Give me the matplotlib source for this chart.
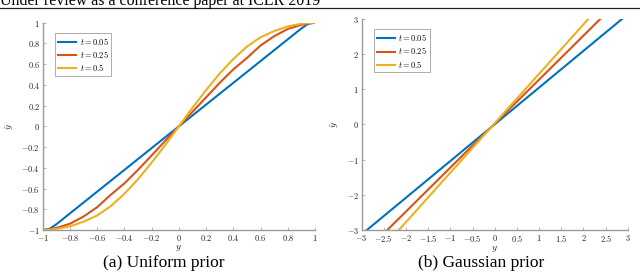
import matplotlib
matplotlib.use("Agg")
import matplotlib.pyplot as plt
from matplotlib.ticker import FuncFormatter, FixedLocator

plt.rcParams['mathtext.fontset'] = 'cm'

# (a) uniform prior: y -> y_hat
uni_y = [-1.0, -0.95, -0.9, -0.8, -0.7, -0.6, -0.5, -0.4, -0.3, -0.2, -0.1, 0.0,
         0.1, 0.2, 0.3, 0.4, 0.5, 0.6, 0.7, 0.8, 0.9, 0.95, 1.0]
uni_t005 = [-1.0, -0.99, -0.945, -0.84, -0.735, -0.63, -0.525, -0.42, -0.315, -0.21, -0.105, 0.0,
            0.105, 0.21, 0.315, 0.42, 0.525, 0.63, 0.735, 0.84, 0.945, 0.99, 1.0]
uni_t025 = [-1.0, -0.995, -0.98, -0.94, -0.87, -0.78, -0.66, -0.55, -0.42, -0.28, -0.14, 0.0,
            0.14, 0.28, 0.42, 0.55, 0.66, 0.78, 0.87, 0.94, 0.98, 0.995, 1.0]
uni_t05 = [-1.0, -0.998, -0.99, -0.965, -0.92, -0.86, -0.77, -0.65, -0.51, -0.35, -0.18, 0.0,
           0.18, 0.35, 0.51, 0.65, 0.77, 0.86, 0.92, 0.965, 0.99, 0.998, 1.0]

# (b) gaussian prior: straight lines, end points
gau_t005_y = [-2.88, 2.87]
gau_t025_y = [-2.42, 2.38]
gau_t05_y = [-2.16, 2.11]
gau_yhat = [-3.0, 3.0]

labels = ['$t = 0.05$', '$t = 0.25$', '$t = 0.5$']
colors = ['#0072BD', '#D95319', '#EDB120']

uni_ticks_x = [-1, -0.8, -0.6, -0.4, -0.2, 0, 0.2, 0.4, 0.6, 0.8, 1]
uni_ticks_y = [-1, -0.8, -0.6, -0.4, -0.2, 0, 0.2, 0.4, 0.6, 0.8, 1]
gau_ticks_x = [-3, -2.5, -2, -1.5, -1, -0.5, 0, 0.5, 1, 1.5, 2, 2.5, 3]
gau_ticks_y = [-3, -2, -1, 0, 1, 2, 3]

fig = plt.figure(figsize=(6.4, 2.72), dpi=100)
ax1 = fig.add_axes([0.0667, 0.1544, 0.4255, 0.762])
ax2 = fig.add_axes([0.565, 0.1544, 0.416, 0.776])

fmt = FuncFormatter(lambda v, p: '$%g$' % v)


def style(ax, xt, yt, lim_x, lim_y):
    ax.set_xlim(lim_x)
    ax.set_ylim(lim_y)
    for s in ['top', 'right']:
        ax.spines[s].set_visible(False)
    for s in ['left', 'bottom']:
        ax.spines[s].set_color('#9a9a9a')
        ax.spines[s].set_linewidth(1.0)
    ax.xaxis.set_major_locator(FixedLocator(xt))
    ax.yaxis.set_major_locator(FixedLocator(yt))
    ax.xaxis.set_major_formatter(fmt)
    ax.yaxis.set_major_formatter(fmt)
    ax.tick_params(direction='in', length=2.5, width=0.5, color='#9a9a9a',
                   labelsize=6, pad=2, labelcolor='#222222')
    ax.set_xlabel('$y$', fontsize=7, labelpad=0.5, color='#222222')
    ax.set_ylabel(r'$\hat{y}$', fontsize=7, labelpad=4, color='#222222')
    leg = ax.legend(loc='upper left', fontsize=6, handlelength=2.2, handletextpad=0.4,
                    borderpad=0.35, labelspacing=0.25, fancybox=False,
                    bbox_to_anchor=(0.03, 0.97))
    leg.get_frame().set_edgecolor('#888888')
    leg.get_frame().set_linewidth(0.6)


ax1.plot(uni_y, uni_t005, color=colors[0], lw=1.5, label=labels[0])
ax1.plot(uni_y, uni_t025, color=colors[1], lw=1.5, label=labels[1])
ax1.plot(uni_y, uni_t05, color=colors[2], lw=1.5, label=labels[2])
style(ax1, uni_ticks_x, uni_ticks_y, (-1, 1), (-1, 1))

ax2.plot(gau_t005_y, gau_yhat, color=colors[0], lw=1.5, label=labels[0])
ax2.plot(gau_t025_y, gau_yhat, color=colors[1], lw=1.5, label=labels[1])
ax2.plot(gau_t05_y, gau_yhat, color=colors[2], lw=1.5, label=labels[2])
style(ax2, gau_ticks_x, gau_ticks_y, (-3, 3), (-3, 3))

fig.text(0.2555, 0.02, '(a) Uniform prior', family='Liberation Serif', fontsize=12.5,
         ha='center', va='baseline')
fig.text(0.7516, 0.02, '(b) Gaussian prior', family='Liberation Serif', fontsize=12.5,
         ha='center', va='baseline')

# cropped page header and rule
fig.text(0.0, 0.982, 'Under review as a conference paper at ICLR 2019',
         family='Liberation Serif', fontsize=11.5, ha='left', va='baseline')
fig.add_artist(plt.Line2D([0, 1], [0.969, 0.969], color='#222222', lw=0.9,
                          transform=fig.transFigure))

fig.savefig('out.png', dpi=100)
